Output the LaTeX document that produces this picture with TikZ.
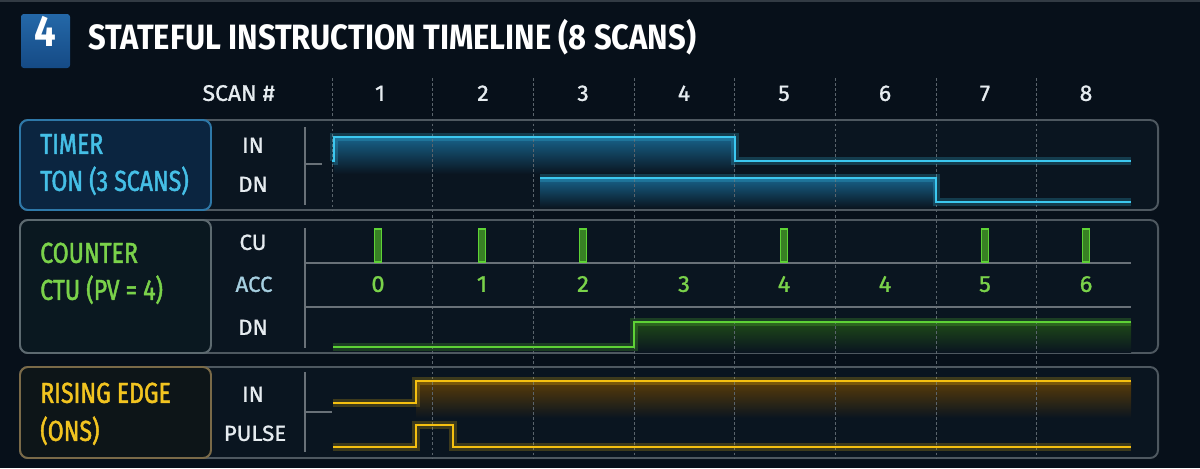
\documentclass[tikz,border=0pt]{standalone}
\usepackage{fontspec}
\setmainfont{Fira Sans}
\newfontfamily\sigfont{Fira Sans}[FakeStretch=1.02, FakeBold=1.2]
\newfontfamily\namefont{Fira Sans}[FakeStretch=0.8, FakeBold=1.6]
\newfontfamily\titlefont{Fira Sans}[FakeStretch=0.88]
\definecolor{bg}{HTML}{07101A}
\definecolor{panelc}{HTML}{0A1520}
\definecolor{framec}{HTML}{4E5860}
\definecolor{gridc}{HTML}{5A646C}
\definecolor{lblc}{HTML}{E6ECF0}
\definecolor{accc}{HTML}{A6CFE0}
\definecolor{cyanc}{HTML}{3CC8F0}
\definecolor{cyantxt}{HTML}{45BFE6}
\definecolor{cyanfill}{HTML}{17628A}
\definecolor{cyanbox}{HTML}{0B2540}
\definecolor{cyanboxb}{HTML}{2E78A8}
\definecolor{greenc}{HTML}{5ED236}
\definecolor{greentxt}{HTML}{7AD24A}
\definecolor{greenfill}{HTML}{1F4A18}
\definecolor{greenbox}{HTML}{0A1820}
\definecolor{greenboxb}{HTML}{5D6A70}
\definecolor{goldc}{HTML}{F5C010}
\definecolor{goldtxt}{HTML}{F2C420}
\definecolor{goldfill}{HTML}{5A3C08}
\definecolor{goldbox}{HTML}{0D1518}
\definecolor{goldboxb}{HTML}{7A6A48}
\definecolor{tboxtop}{HTML}{2468A8}
\definecolor{tboxbot}{HTML}{154A85}
\tikzset{
  frame/.style={draw=framec, line width=1.4pt, rounded corners=5.7pt, fill=panelc},
  lbox/.style={line width=1.4pt, rounded corners=5.7pt},
  gridl/.style={draw=gridc, line width=0.7pt, dash pattern=on 2pt off 1.6pt},
  sepl/.style={draw=framec!85!white, line width=1pt},
  sig/.style={line width=1.7pt},
  glow/.style={line width=5pt, opacity=0.22},
  txt/.style={inner sep=0pt, text height=0.69em, text depth=0pt},
  lbl/.style={txt, text=lblc, font=\sigfont\fontsize{15.5}{16}\selectfont},
  pname/.style={txt, anchor=west, font=\namefont\fontsize{20.5}{22}\selectfont},
  hnum/.style={txt, text=lblc, font=\sigfont\fontsize{16}{17}\selectfont},
  accnum/.style={txt, text=greentxt, font=\sigfont\fontsize{16.5}{17}\selectfont},
  pulse/.style={draw=greenc, fill=greenfill!60!greenc, line width=1pt}
}
\begin{document}
\begin{tikzpicture}[x=0.025cm,y=-0.025cm]
\useasboundingbox (0,0) rectangle (1200,468);
\fill[bg] (0,0) rectangle (1200,468);
\fill[framec!60!bg] (0,0) rectangle (1200,2);

% title
\shade[top color=tboxtop, bottom color=tboxbot, rounded corners=2pt] (21,14) rectangle (70,68);
\node[txt, text=white, font=\titlefont\fontsize{31}{32}\bfseries\selectfont] (tnum) at (45.5,42) {4};
\node[txt, anchor=west, text=white, font=\titlefont\fontsize{25}{26}\bfseries\selectfont] (title) at (88,45) {STATEFUL INSTRUCTION TIMELINE (8 SCANS)};

% header
\node[hnum, anchor=east] (scan) at (275,96) {SCAN \#};
\foreach \x/\n in {380/1,483/2,583/3,684/4,784/5,885/6,985/7,1086/8}
  \node[hnum] (h\n) at (\x,96) {\n};

% panels
\path[frame] (20,120) rectangle (1158,210);
\path[frame] (20,220) rectangle (1158,353);
\path[frame] (20,367) rectangle (1158,458);

% fills under signals
\shade[top color=cyanfill, bottom color=panelc] (334,137) rectangle (735,174);
\shade[top color=cyanfill, bottom color=panelc] (540,178) rectangle (936,208);
\shade[top color=greenfill, bottom color=panelc] (634,322) rectangle (1131,352);
\shade[top color=goldfill, bottom color=panelc] (416,381) rectangle (1131,418);

% grid
\draw[gridl] (332,78) -- (332,210);
\foreach \x in {432.7,533.4,634.1,734.8,835.5,936.2,1036.9}
  \draw[gridl] (\x,78) -- (\x,458);

% label boxes
\draw[lbox, draw=cyanboxb, fill=cyanbox] (20,120) rectangle (211,210);
\draw[lbox, draw=greenboxb, fill=greenbox] (20,220) rectangle (211,353);
\draw[lbox, draw=goldboxb, fill=goldbox] (20,367) rectangle (211,458);

% dividers and row lines
\draw[sepl] (305,127) -- (305,205);
\draw[sepl] (305,164) -- (322,164);
\draw[sepl] (305,228) -- (305,348);
\draw[sepl] (305,263) -- (1131,263);
\draw[sepl] (305,307) -- (1131,307);
\draw[sepl] (305,372) -- (305,452);
\draw[sepl] (305,412) -- (332,412);

% panel names
\node[pname, text=cyantxt] (ntimer) at (40,149) {TIMER};
\node[pname, text=cyantxt] (nton) at (40,186) {TON (3 SCANS)};
\node[pname, text=greentxt] (ncount) at (40,258) {COUNTER};
\node[pname, text=greentxt] (nctu) at (40,295) {CTU (PV = 4)};
\node[pname, text=goldtxt] (nrise) at (40,398) {RISING EDGE};
\node[pname, text=goldtxt] (nons) at (40,436) {(ONS)};

% signal labels
\node[lbl] (lin1) at (253,148) {IN};
\node[lbl] (ldn1) at (253,187) {DN};
\node[lbl] (lcu) at (253,245) {CU};
\node[lbl, text=accc] (lacc) at (254,287) {ACC};
\node[lbl] (ldn2) at (253,330) {DN};
\node[lbl] (lin3) at (253,397) {IN};
\node[lbl] (lpulse) at (255,436) {PULSE};

% signals
\foreach \s in {glow,sig}{
  \draw[\s, cyanc] (332,161) -- (334,161) -- (334,137) -- (735,137) -- (735,161) -- (1131,161);
  \draw[\s, cyanc] (540,178) -- (936,178) -- (936,202) -- (1131,202);
  \draw[\s, greenc] (333,347) -- (634,347) -- (634,322) -- (1131,322);
  \draw[\s, goldc] (333,403) -- (416,403) -- (416,381) -- (1131,381);
  \draw[\s, goldc] (333,447) -- (416,447) -- (416,425) -- (453,425) -- (453,447) -- (1131,447);
}

% counter pulses
\foreach \x in {378,482,583,784,985,1086}
  \draw[pulse] (\x-3.5,229) rectangle (\x+3.5,262);

% ACC values
\foreach \x/\v [count=\i] in {378/0,482/1,583/2,684/3,784/4,885/4,985/5,1086/6}
  \node[accnum] (acc\i) at (\x,287) {\v};
\end{tikzpicture}
\end{document}
